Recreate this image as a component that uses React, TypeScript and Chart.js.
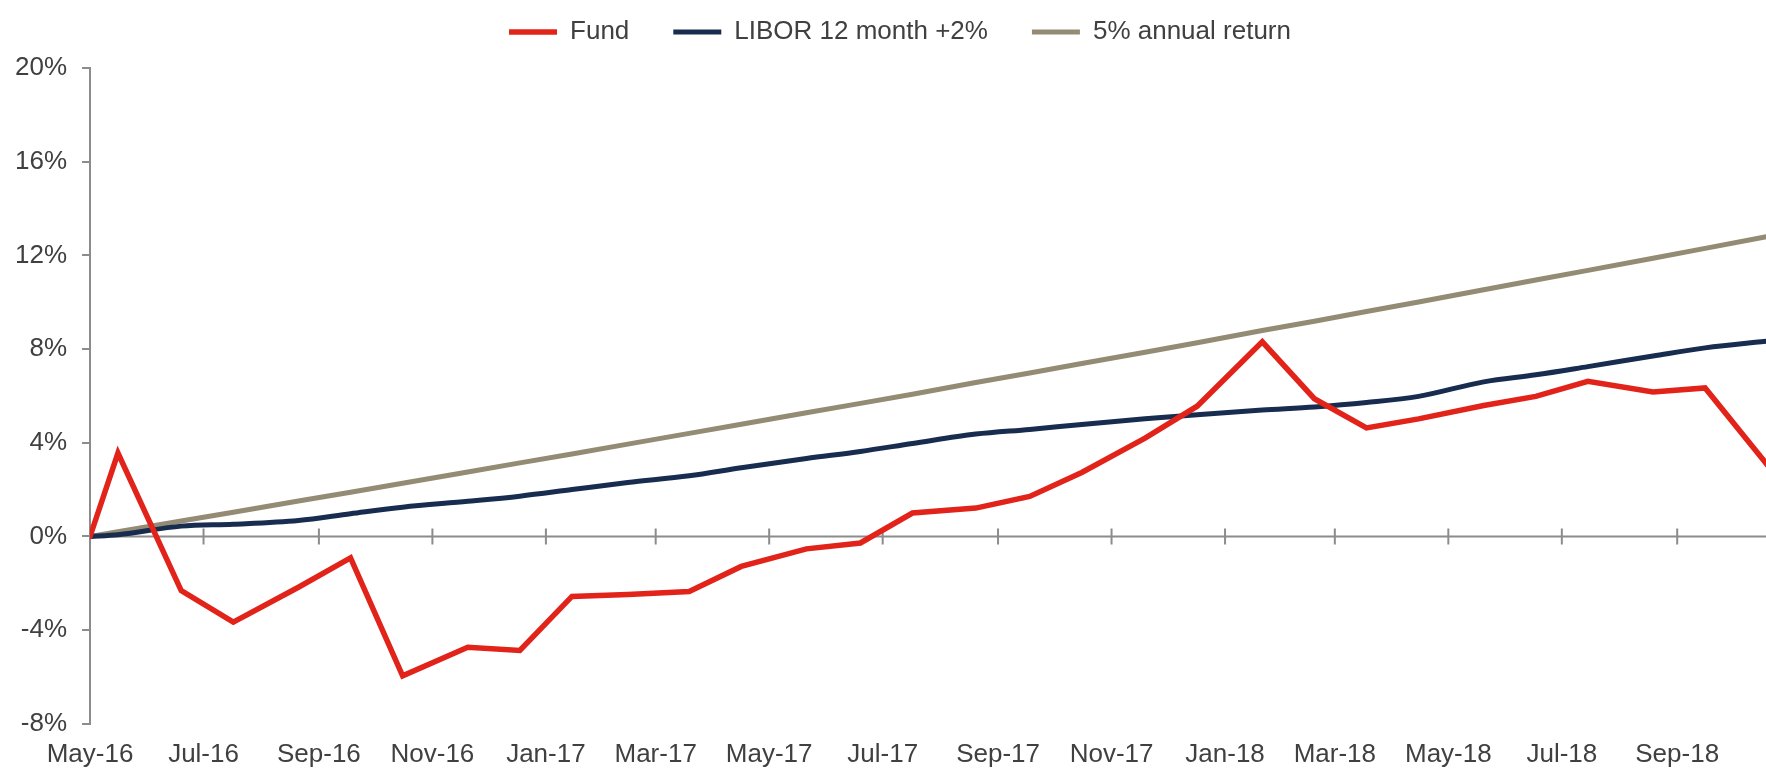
import React, { useEffect, useRef } from 'react';
import { Chart, registerables } from 'chart.js';

Chart.register(...registerables);

// ---- data ----
const BASE_DATE = '2016-05-01';
const X_MAX_DATE = '2018-11-06';

const DATES = [
  '2016-05-01', '2016-05-16', '2016-06-19', '2016-07-17', '2016-08-21', '2016-09-18',
  '2016-10-16', '2016-11-20', '2016-12-18', '2017-01-15', '2017-02-14', '2017-03-19',
  '2017-04-16', '2017-05-21', '2017-06-19', '2017-07-17', '2017-08-20', '2017-09-18',
  '2017-10-16', '2017-11-19', '2017-12-17', '2018-01-21', '2018-02-18', '2018-03-18',
  '2018-04-15', '2018-05-20', '2018-06-17', '2018-07-15', '2018-08-19', '2018-09-16',
  '2018-10-21',
];

const FUND = [
  0, 3.56, -2.31, -3.66, -2.17, -0.92,
  -5.95, -4.73, -4.87, -2.56, -2.48, -2.35,
  -1.28, -0.53, -0.28, 1.0, 1.21, 1.71,
  2.73, 4.2, 5.56, 8.31, 5.88, 4.63,
  5.02, 5.59, 5.98, 6.62, 6.17, 6.34,
  2.9,
];

const LIBOR = [
  0, 0.07, 0.44, 0.52, 0.68, 0.97,
  1.25, 1.5, 1.72, 2.0, 2.3, 2.59,
  2.93, 3.33, 3.63, 3.97, 4.37, 4.57,
  4.78, 5.02, 5.2, 5.4, 5.53, 5.72,
  5.98, 6.6, 6.9, 7.25, 7.7, 8.05,
  8.35,
];

const ANNUAL5 = [
  0, 0.2, 0.66, 1.03, 1.51, 1.89,
  2.27, 2.75, 3.14, 3.52, 3.94, 4.4,
  4.79, 5.28, 5.68, 6.07, 6.57, 6.98,
  7.38, 7.86, 8.27, 8.79, 9.19, 9.6,
  10.01, 10.53, 10.95, 11.36, 11.88, 12.3,
  12.83,
];

const TICK_DATES = [
  '2016-05-01', '2016-07-01', '2016-09-01', '2016-11-01', '2017-01-01', '2017-03-01',
  '2017-05-01', '2017-07-01', '2017-09-01', '2017-11-01', '2018-01-01', '2018-03-01',
  '2018-05-01', '2018-07-01', '2018-09-01',
];
const TICK_LABELS = [
  'May-16', 'Jul-16', 'Sep-16', 'Nov-16', 'Jan-17', 'Mar-17',
  'May-17', 'Jul-17', 'Sep-17', 'Nov-17', 'Jan-18', 'Mar-18',
  'May-18', 'Jul-18', 'Sep-18',
];

const SERIES_NAMES = ['Fund', 'LIBOR 12 month +2%', '5% annual return'];
const SERIES_COLORS = ['#e2231a', '#172c4f', '#948b74'];

const Y_MIN = -8;
const Y_MAX = 20;
const Y_STEP = 4;

// ---- helpers ----
const DAY_MS = 86400000;
const dayOf = (d: string) => Math.round((Date.parse(d) - Date.parse(BASE_DATE)) / DAY_MS);

const AXIS_COLOR = '#8c8c8c';
const TEXT_COLOR = '#404040';
const FONT_FAMILY = '"Liberation Sans", Arial, Helvetica, sans-serif';
const LEGEND_HEIGHT = 93;

const legendFit = {
  id: 'legendFit',
  beforeLayout(chart: any) {
    const lg = chart.legend;
    if (lg && !lg.__patched) {
      const orig = lg.fit;
      lg.fit = function () {
        orig.call(this);
        this.height = LEGEND_HEIGHT;
      };
      lg.__patched = true;
    }
  },
};

const zeroAxis = {
  id: 'zeroAxis',
  beforeDatasetsDraw(chart: any) {
    const { ctx, chartArea, scales } = chart;
    const y0 = scales.y.getPixelForValue(0);
    ctx.save();
    ctx.strokeStyle = AXIS_COLOR;
    ctx.lineWidth = 2;
    ctx.beginPath();
    ctx.moveTo(chartArea.left, y0);
    ctx.lineTo(chartArea.right, y0);
    scales.x.ticks.forEach((t: any) => {
      const px = scales.x.getPixelForValue(t.value);
      ctx.moveTo(px, y0 - 8);
      ctx.lineTo(px, y0 + 8);
    });
    ctx.stroke();
    ctx.restore();
  },
};

const series = [FUND, LIBOR, ANNUAL5];

export default function App() {
  const ref = useRef<HTMLCanvasElement>(null);

  useEffect(() => {
    if (!ref.current) return;
    const chart = new Chart(ref.current, {
      type: 'line',
      data: {
        datasets: series.map((vals, si) => ({
          label: SERIES_NAMES[si],
          data: DATES.map((d, i) => ({ x: dayOf(d), y: vals[i] })),
          borderColor: SERIES_COLORS[si],
          backgroundColor: SERIES_COLORS[si],
          borderWidth: si === 0 ? 5.5 : 5,
          borderCapStyle: 'round',
          borderJoinStyle: 'miter',
          pointRadius: 0,
          pointHoverRadius: 0,
          tension: si === 1 ? 0.4 : 0,
          cubicInterpolationMode: si === 1 ? 'monotone' : 'default',
          fill: false,
        })) as any,
      },
      options: {
        animation: false,
        responsive: true,
        maintainAspectRatio: false,
        layout: { padding: { left: 0, right: 0, top: 0, bottom: 0 } },
        plugins: {
          tooltip: { enabled: false },
          legend: {
            display: true,
            position: 'top',
            labels: {
              usePointStyle: true,
              pointStyle: 'line',
              pointStyleWidth: 48,
              padding: 44,
              color: TEXT_COLOR,
              font: { family: FONT_FAMILY, size: 26 },
            },
          },
        },
        scales: {
          x: {
            type: 'linear',
            min: 0,
            max: dayOf(X_MAX_DATE),
            grid: { display: false, drawTicks: false },
            border: { display: false },
            afterBuildTicks: (scale: any) => {
              scale.ticks = TICK_DATES.map((d) => ({ value: dayOf(d) }));
            },
            ticks: {
              autoSkip: false,
              maxRotation: 0,
              minRotation: 0,
              padding: 15,
              color: TEXT_COLOR,
              font: { family: FONT_FAMILY, size: 26 },
              callback: (_v: any, i: number) => TICK_LABELS[i],
            },
          },
          y: {
            type: 'linear',
            min: Y_MIN,
            max: Y_MAX,
            grid: {
              display: true,
              drawOnChartArea: false,
              drawTicks: true,
              tickLength: 8,
              color: AXIS_COLOR,
              lineWidth: 2,
            },
            border: { display: true, color: AXIS_COLOR, width: 2 },
            ticks: {
              stepSize: Y_STEP,
              padding: 15,
              color: TEXT_COLOR,
              font: { family: FONT_FAMILY, size: 26 },
              callback: (v: any) => `${v}%`,
            },
          },
        },
      } as any,
      plugins: [legendFit, zeroAxis],
    });
    return () => chart.destroy();
  }, []);

  return (
    <div
      style={{
        position: 'fixed',
        left: 0,
        top: 0,
        width: 1766,
        height: 768,
        overflow: 'hidden',
        background: '#ffffff',
      }}
    >
      <div style={{ position: 'absolute', left: 0, top: -25, width: 1800, height: 810 }}>
        <canvas ref={ref} />
      </div>
    </div>
  );
}
